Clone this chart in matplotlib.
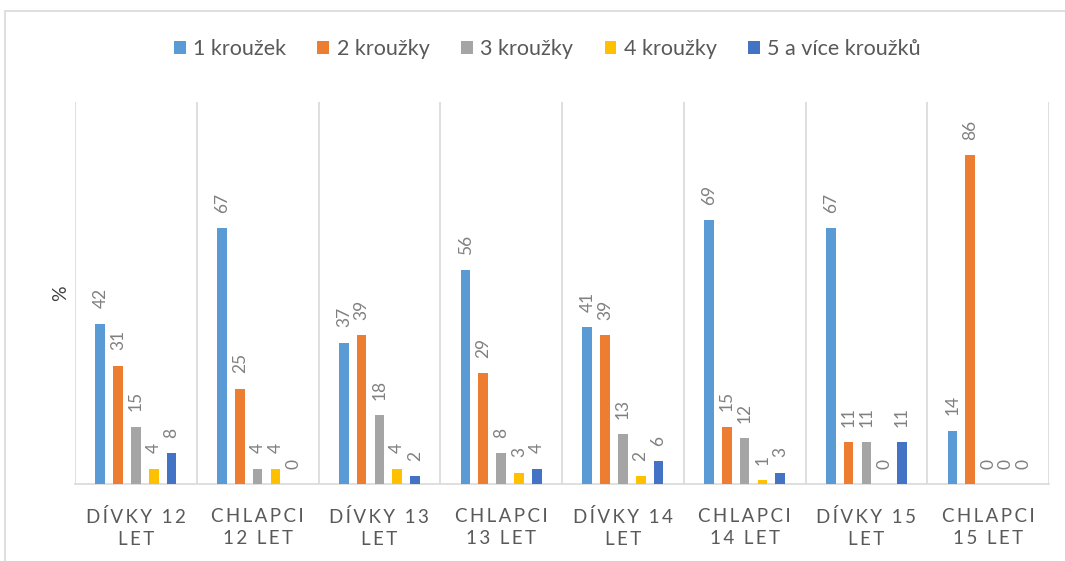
import matplotlib
matplotlib.use("Agg")
import matplotlib.pyplot as plt
import matplotlib.patches as mpatches
import numpy as np

# categories (two-line labels, as in the chart)
categories = ["DÍVKY 12\nLET", "CHLAPCI\n12 LET", "DÍVKY 13\nLET", "CHLAPCI\n13 LET",
              "DÍVKY 14\nLET", "CHLAPCI\n14 LET", "DÍVKY 15\nLET", "CHLAPCI\n15 LET"]

series_names = ["1 kroužek", "2 kroužky", "3 kroužky", "4 kroužky", "5 a více kroužků"]
one_club = [42, 67, 37, 56, 41, 69, 67, 14]
two_clubs = [31, 25, 39, 29, 39, 15, 11, 86]
three_clubs = [15, 4, 18, 8, 13, 12, 11, 0]
four_clubs = [4, 4, 4, 3, 2, 1, 0, 0]
five_plus = [8, 0, 2, 4, 6, 3, 11, 0]
series_values = [one_club, two_clubs, three_clubs, four_clubs, five_plus]

colors = ["#5B9BD5", "#ED7D31", "#A5A5A5", "#FFC000", "#4472C4"]
FONT = ["Lato", "DejaVu Sans"]
plt.rcParams["font.family"] = FONT


def spaced(label):
    # fake Excel's letter spacing
    return "\n".join("\u2009".join(line) for line in label.split("\n"))


fig = plt.figure(figsize=(10.65, 5.61), dpi=100)
ax = fig.add_axes([75 / 1065, 77 / 561, 974 / 1065, 382 / 561])

x = np.arange(len(categories))
offsets = np.array([-2, -1, 0, 1, 2]) * 0.146
width = 0.08

for vals, off, col, name in zip(series_values, offsets, colors, series_names):
    bars = ax.bar(x + off, vals, width=width, color=col, label=name, zorder=3)
    for b, v in zip(bars, vals):
        ax.annotate(str(v), (b.get_x() + b.get_width() / 2, v),
                    xytext=(0, 11), textcoords="offset points",
                    rotation=90, ha="center", va="bottom",
                    fontsize=12.5, color="#808080")

ax.set_xlim(-0.5, len(categories) - 0.5)
ax.set_ylim(0, 100)
ax.set_yticks([])
ax.set_xticks(x)
ax.set_xticklabels([spaced(c) for c in categories], fontsize=13.5, color="#595959",
                   linespacing=1.35)
ax.tick_params(axis="x", length=0, pad=17)

# category separators
for b in np.arange(-0.5, len(categories) + 0.5, 1):
    ax.axvline(b, color="#d9d9d9", linewidth=1.2, zorder=1)

for s in ["top", "right", "left"]:
    ax.spines[s].set_visible(False)
ax.spines["bottom"].set_color("#d9d9d9")
ax.spines["bottom"].set_linewidth(1.2)

ax.set_ylabel("%", fontsize=14, color="#404040", labelpad=4)

fig.legend(loc="center", bbox_to_anchor=(0.514, 1 - 49 / 561), ncol=5, frameon=False,
           fontsize=15.5, handlelength=0.55, handleheight=0.55, handletextpad=0.35,
           columnspacing=1.45, labelcolor="#595959")

# chart area border
fig.patches.append(mpatches.Rectangle((5 / 1065, -0.05), 1.1, 1.05 - 11 / 561,
                                      transform=fig.transFigure, fill=False,
                                      edgecolor="#d9d9d9", linewidth=1.2))

fig.savefig("out.png", dpi=100)
